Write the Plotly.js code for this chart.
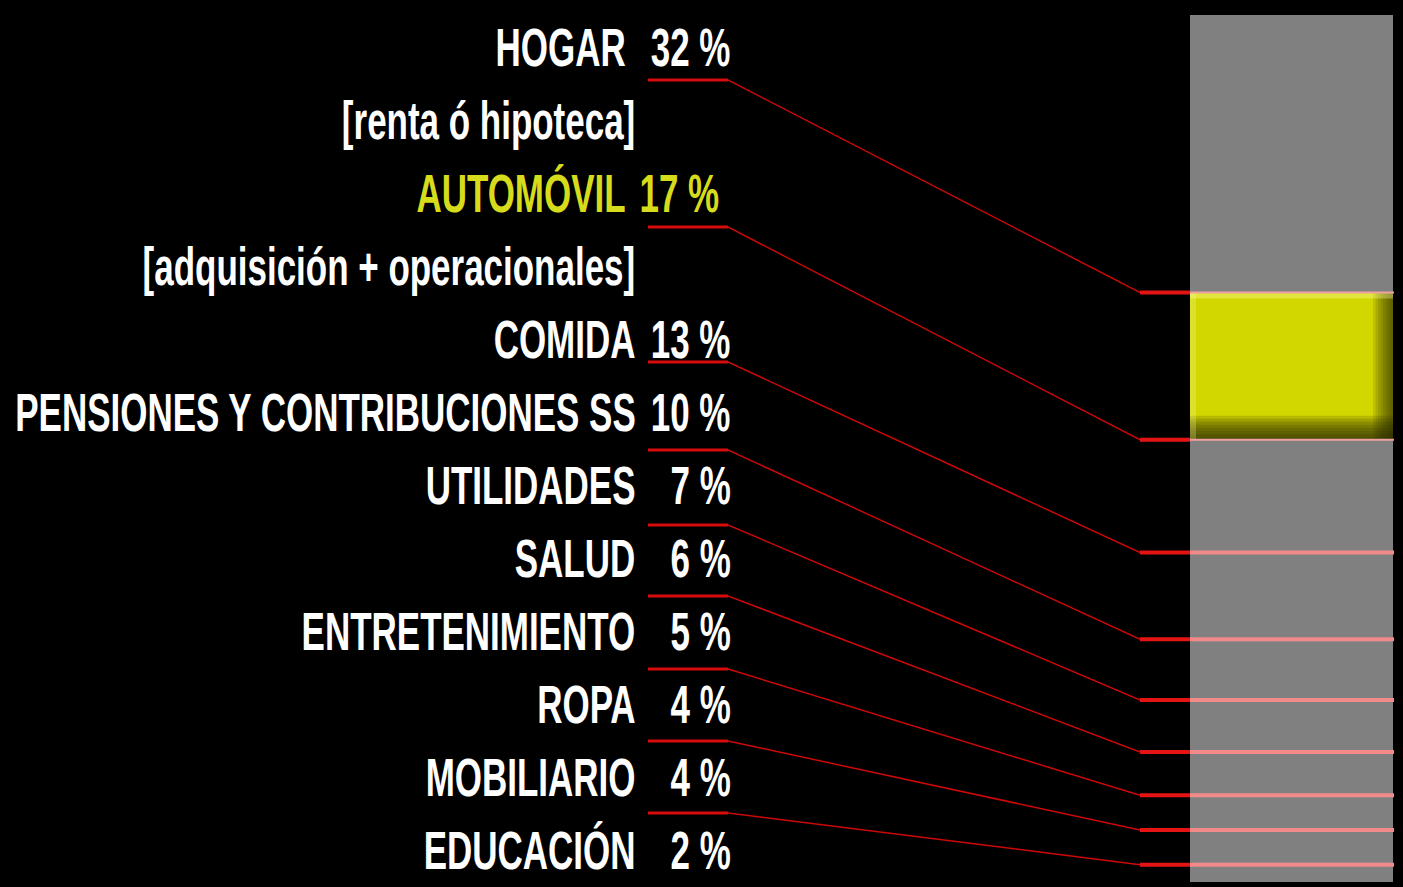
<!DOCTYPE html>
<html>
<head>
<meta charset="utf-8">
<script src="https://cdn.plot.ly/plotly-3.0.1.min.js"></script>
<style>
  html, body { margin: 0; padding: 0; background: #000; overflow: hidden; }
  #wrap { width: 1403px; height: 887px; overflow: hidden; background: #000; }
  #chart { transform-origin: 0 0; }
</style>
</head>
<body>
<div id="wrap"><div id="chart"></div></div>
<script>
// ---------------- data ----------------
const categories = ['HOGAR', 'AUTOMÓVIL', 'COMIDA', 'PENSIONES Y CONTRIBUCIONES SS', 'UTILIDADES',
                    'SALUD', 'ENTRETENIMIENTO', 'ROPA', 'MOBILIARIO', 'EDUCACIÓN'];
const values = [32, 17, 13, 10, 7, 6, 5, 4, 4, 2];
const notes = ['[renta ó hipoteca]', '[adquisición + operacionales]', '', '', '', '', '', '', '', ''];
const highlighted = ['AUTOMÓVIL'];

// ---------------- layout constants (reference pixel space) ----------------
const W = 1403, H = 887;
const SX = 0.66;                      // horizontal squeeze -> condensed type look
const DW = Math.round(W / SX);        // drawing width before squeeze
const BAR_TOP = 15, BAR_BOT = 882;    // bar extent in px
const BAR_L = 1190, BAR_R = 1393;
const STUB_L = 1140, LINE_R = 1394;
const ROW0 = 47, ROW_STEP = 73;
const UL_L = 648, UL_R = 728;
const underlineOffset = [33, 34, 23, 38, 40, 38, 38, 37, 36];
const FONT = "'Liberation Sans', Arimo, Arial, sans-serif";
const FSIZE = 53;
const GRAY = '#808080', YELLOW = '#d3d700', YELLOW_TXT = '#d6dc1c';

const total = values.reduce((a, b) => a + b, 0);
const pxToY = p => (p - BAR_TOP) / (BAR_BOT - BAR_TOP) * total;
const px = x => x / W;

// cumulative boundaries (bottom edge of each segment)
const cum = [];
values.reduce((acc, v, i) => { cum[i] = acc + v; return acc + v; }, 0);

// ---------------- traces ----------------
const traces = categories.map((c, i) => ({
  type: 'bar', x: [0], y: [values[i]], name: c,
  marker: { color: highlighted.includes(c) ? YELLOW : GRAY, line: { width: 0 } },
  hoverinfo: 'skip', showlegend: false
}));

// ---------------- annotations ----------------
const annotations = [];
let row = 0;
const ulY = [];
const txt = (x, y, text, color) => ({
  xref: 'paper', yref: 'y', x: px(x), y: pxToY(y), xanchor: 'right', yanchor: 'middle',
  text: text, showarrow: false, borderpad: 0,
  font: { family: FONT, size: FSIZE, color: color, weight: 'bold' }
});
categories.forEach((c, i) => {
  const yc = ROW0 + ROW_STEP * row;
  const isHi = highlighted.includes(c);
  const col = isHi ? YELLOW_TXT : '#ffffff';
  const labelRight = (i < 2) ? 626 : 636;
  const pctRight = isHi ? 720 : 731;
  annotations.push(txt(labelRight, yc, c, col));
  annotations.push(txt(pctRight, yc, values[i] + ' %', col));
  if (i < underlineOffset.length) ulY.push(yc + underlineOffset[i]);
  row++;
  if (notes[i]) {
    annotations.push(txt(636, ROW0 + ROW_STEP * row, notes[i], '#ffffff'));
    row++;
  }
});

// ---------------- shapes ----------------
const shapes = [];
const unit = total / (BAR_BOT - BAR_TOP); // data units per px
// bevel on highlighted segments
categories.forEach((c, i) => {
  if (!highlighted.includes(c)) return;
  const top = cum[i] - values[i], bot = cum[i];
  for (let k = 1; k <= 8; k++) {
    shapes.push({ type: 'rect', xref: 'paper', yref: 'y', x0: px(BAR_L), x1: px(BAR_R),
      y0: bot - k * 3 * unit, y1: bot, fillcolor: 'rgba(40,40,0,0.17)', line: { width: 0 }, layer: 'above' });
    shapes.push({ type: 'rect', xref: 'paper', yref: 'y', x0: px(BAR_R - k * 2.5), x1: px(BAR_R),
      y0: top, y1: bot, fillcolor: 'rgba(40,40,0,0.12)', line: { width: 0 }, layer: 'above' });
  }
  shapes.push({ type: 'rect', xref: 'paper', yref: 'y', x0: px(BAR_L), x1: px(BAR_R),
    y0: top, y1: top + 6 * unit, fillcolor: 'rgba(255,255,170,0.35)', line: { width: 0 }, layer: 'above' });
  shapes.push({ type: 'rect', xref: 'paper', yref: 'y', x0: px(BAR_L), x1: px(BAR_L + 6),
    y0: top, y1: bot, fillcolor: 'rgba(255,255,170,0.25)', line: { width: 0 }, layer: 'above' });
});
// leader lines
ulY.forEach((u, i) => {
  const b = cum[i];
  shapes.push({ type: 'line', xref: 'paper', yref: 'y', x0: px(UL_L), x1: px(UL_R), y0: pxToY(u), y1: pxToY(u),
    line: { color: '#d80c0c', width: 3 } });
  shapes.push({ type: 'line', xref: 'paper', yref: 'y', x0: px(UL_R), x1: px(STUB_L), y0: pxToY(u), y1: b,
    line: { color: '#d00808', width: 1.5 } });
  shapes.push({ type: 'line', xref: 'paper', yref: 'y', x0: px(STUB_L), x1: px(BAR_L), y0: b, y1: b,
    line: { color: '#e51414', width: 4 } });
  shapes.push({ type: 'line', xref: 'paper', yref: 'y', x0: px(BAR_L), x1: px(LINE_R), y0: b, y1: b,
    line: { color: i < 2 ? '#f0a0a0' : '#f28a8a', width: i < 2 ? 2 : 4 } });
});

// ---------------- layout ----------------
const layout = {
  width: DW, height: H,
  margin: { l: 0, r: 0, t: 0, b: 0 },
  paper_bgcolor: '#000000', plot_bgcolor: '#000000',
  barmode: 'stack', bargap: 0,
  showlegend: false,
  xaxis: { domain: [px(BAR_L), px(BAR_R)], range: [-0.5, 0.5], visible: false, fixedrange: true },
  yaxis: { range: [pxToY(H), pxToY(0)], visible: false, fixedrange: true, showgrid: false, zeroline: false },
  annotations: annotations,
  shapes: shapes
};

const el = document.getElementById('chart');
el.style.width = DW + 'px';
el.style.height = H + 'px';
el.style.transform = 'scaleX(' + (W / DW) + ')';
Plotly.newPlot(el, traces, layout, { staticPlot: true, displayModeBar: false });
</script>
</body>
</html>
